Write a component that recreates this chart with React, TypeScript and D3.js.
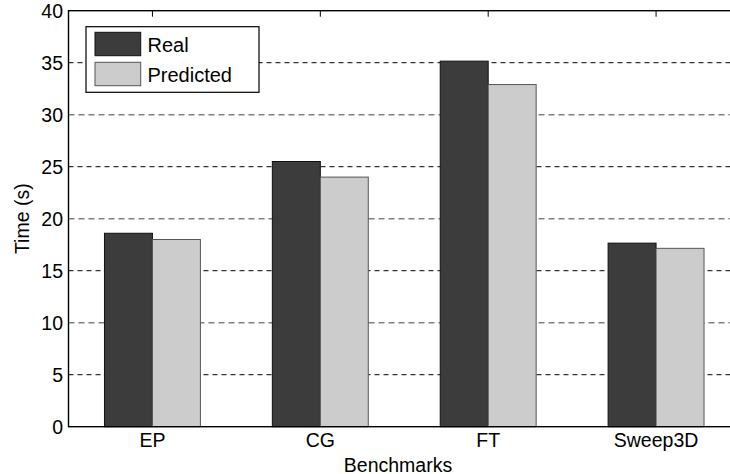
import { useEffect, useRef } from "react";
import * as d3 from "d3";

const categories = ["EP", "CG", "FT", "Sweep3D"];
const series = ["Real", "Predicted"];
const realValues = [18.6, 25.5, 35.15, 17.65];
const predictedValues = [18.0, 24.0, 32.9, 17.15];
const yTicks = [0, 5, 10, 15, 20, 25, 30, 35, 40];
const colors = ["#3c3c3c", "#cccccc"];

export default function App() {
  const ref = useRef<SVGSVGElement>(null);

  useEffect(() => {
    const width = 730;
    const height = 474;
    const margin = { top: 10.7, right: -10, bottom: 47.3, left: 68.5 };
    const font = "'Liberation Sans', Arial, Helvetica, sans-serif";
    const fs = 19.5;

    const svg = d3.select(ref.current);
    svg.selectAll("*").remove();

    const x = d3
      .scaleBand()
      .domain(categories)
      .range([margin.left, width - margin.right])
      .padding(0);

    const bw = x.bandwidth();
    const x1 = d3
      .scaleBand()
      .domain(series)
      .range([bw * 0.2143, bw * 0.7857])
      .padding(0);

    const y = d3
      .scaleLinear()
      .domain([0, 40])
      .range([height - margin.bottom, margin.top]);

    const rows = categories.map((c, i) => ({
      name: c,
      values: [realValues[i], predictedValues[i]],
    }));

    // grid lines
    const grid = svg.append("g");
    yTicks
      .filter((t) => t > 0 && t < 40)
      .forEach((t) => {
        const odd = t % 10 !== 0;
        grid
          .append("line")
          .attr("x1", margin.left)
          .attr("x2", width)
          .attr("y1", y(t))
          .attr("y2", y(t))
          .attr("stroke", odd ? "#000" : "#808080")
          .attr("stroke-width", odd ? 1 : 1.6)
          .attr("stroke-dasharray", odd ? "5,4" : "6,4");
      });

    // bars
    const groups = svg
      .append("g")
      .selectAll("g")
      .data(rows)
      .enter()
      .append("g")
      .attr("transform", (d) => `translate(${x(d.name)},0)`);

    groups
      .selectAll("rect")
      .data((d) => d.values.map((v, i) => ({ key: series[i], value: v, i })))
      .enter()
      .append("rect")
      .attr("x", (d) => x1(d.key)!)
      .attr("y", (d) => y(d.value))
      .attr("width", x1.bandwidth())
      .attr("height", (d) => y(0) - y(d.value))
      .attr("fill", (d) => colors[d.i])
      .attr("stroke", (d) => (d.i === 0 ? "#111" : "#555"))
      .attr("stroke-width", 1);

    // axes box
    svg
      .append("rect")
      .attr("x", margin.left)
      .attr("y", margin.top)
      .attr("width", width - margin.right - margin.left)
      .attr("height", y(0) - margin.top)
      .attr("fill", "none")
      .attr("stroke", "#000")
      .attr("stroke-width", 1.4);

    // category ticks (top, inward)
    categories.forEach((c) => {
      const cx = x(c)! + bw / 2;
      svg
        .append("line")
        .attr("x1", cx)
        .attr("x2", cx)
        .attr("y1", margin.top)
        .attr("y2", margin.top + 6)
        .attr("stroke", "#000")
        .attr("stroke-width", 1);
    });

    // y tick labels
    svg
      .append("g")
      .selectAll("text")
      .data(yTicks)
      .enter()
      .append("text")
      .attr("x", margin.left - 5.5)
      .attr("y", (d) => y(d))
      .attr("dy", "0.36em")
      .attr("text-anchor", "end")
      .attr("font-family", font)
      .attr("font-size", fs)
      .text((d) => d);

    // x tick labels
    svg
      .append("g")
      .selectAll("text")
      .data(categories)
      .enter()
      .append("text")
      .attr("x", (d) => x(d)! + bw / 2)
      .attr("y", 446.5)
      .attr("text-anchor", "middle")
      .attr("font-family", font)
      .attr("font-size", fs)
      .text((d) => d);

    svg
      .append("text")
      .attr("x", 398)
      .attr("y", 471.5)
      .attr("text-anchor", "middle")
      .attr("font-family", font)
      .attr("font-size", fs)
      .text("Benchmarks");

    svg
      .append("text")
      .attr("transform", `translate(29,${(margin.top + y(0)) / 2}) rotate(-90)`)
      .attr("text-anchor", "middle")
      .attr("font-family", font)
      .attr("font-size", fs)
      .text("Time (s)");

    // legend
    const legend = svg.append("g");
    legend
      .append("rect")
      .attr("x", 86)
      .attr("y", 26.7)
      .attr("width", 173)
      .attr("height", 65.6)
      .attr("fill", "#fff")
      .attr("stroke", "#000")
      .attr("stroke-width", 1.2);

    series.forEach((s, i) => {
      const top = 32.3 + i * 30;
      legend
        .append("rect")
        .attr("x", 95)
        .attr("y", top)
        .attr("width", 45.7)
        .attr("height", 23.4)
        .attr("fill", colors[i])
        .attr("stroke", i === 0 ? "#111" : "#555")
        .attr("stroke-width", 1);
      legend
        .append("text")
        .attr("x", 147.5)
        .attr("y", top + 19.5)
        .attr("font-family", font)
        .attr("font-size", 20)
        .text(s);
    });
  }, []);

  return (
    <svg
      ref={ref}
      width={730}
      height={474}
      style={{ position: "absolute", left: 0, top: 0, background: "#fff" }}
    />
  );
}
